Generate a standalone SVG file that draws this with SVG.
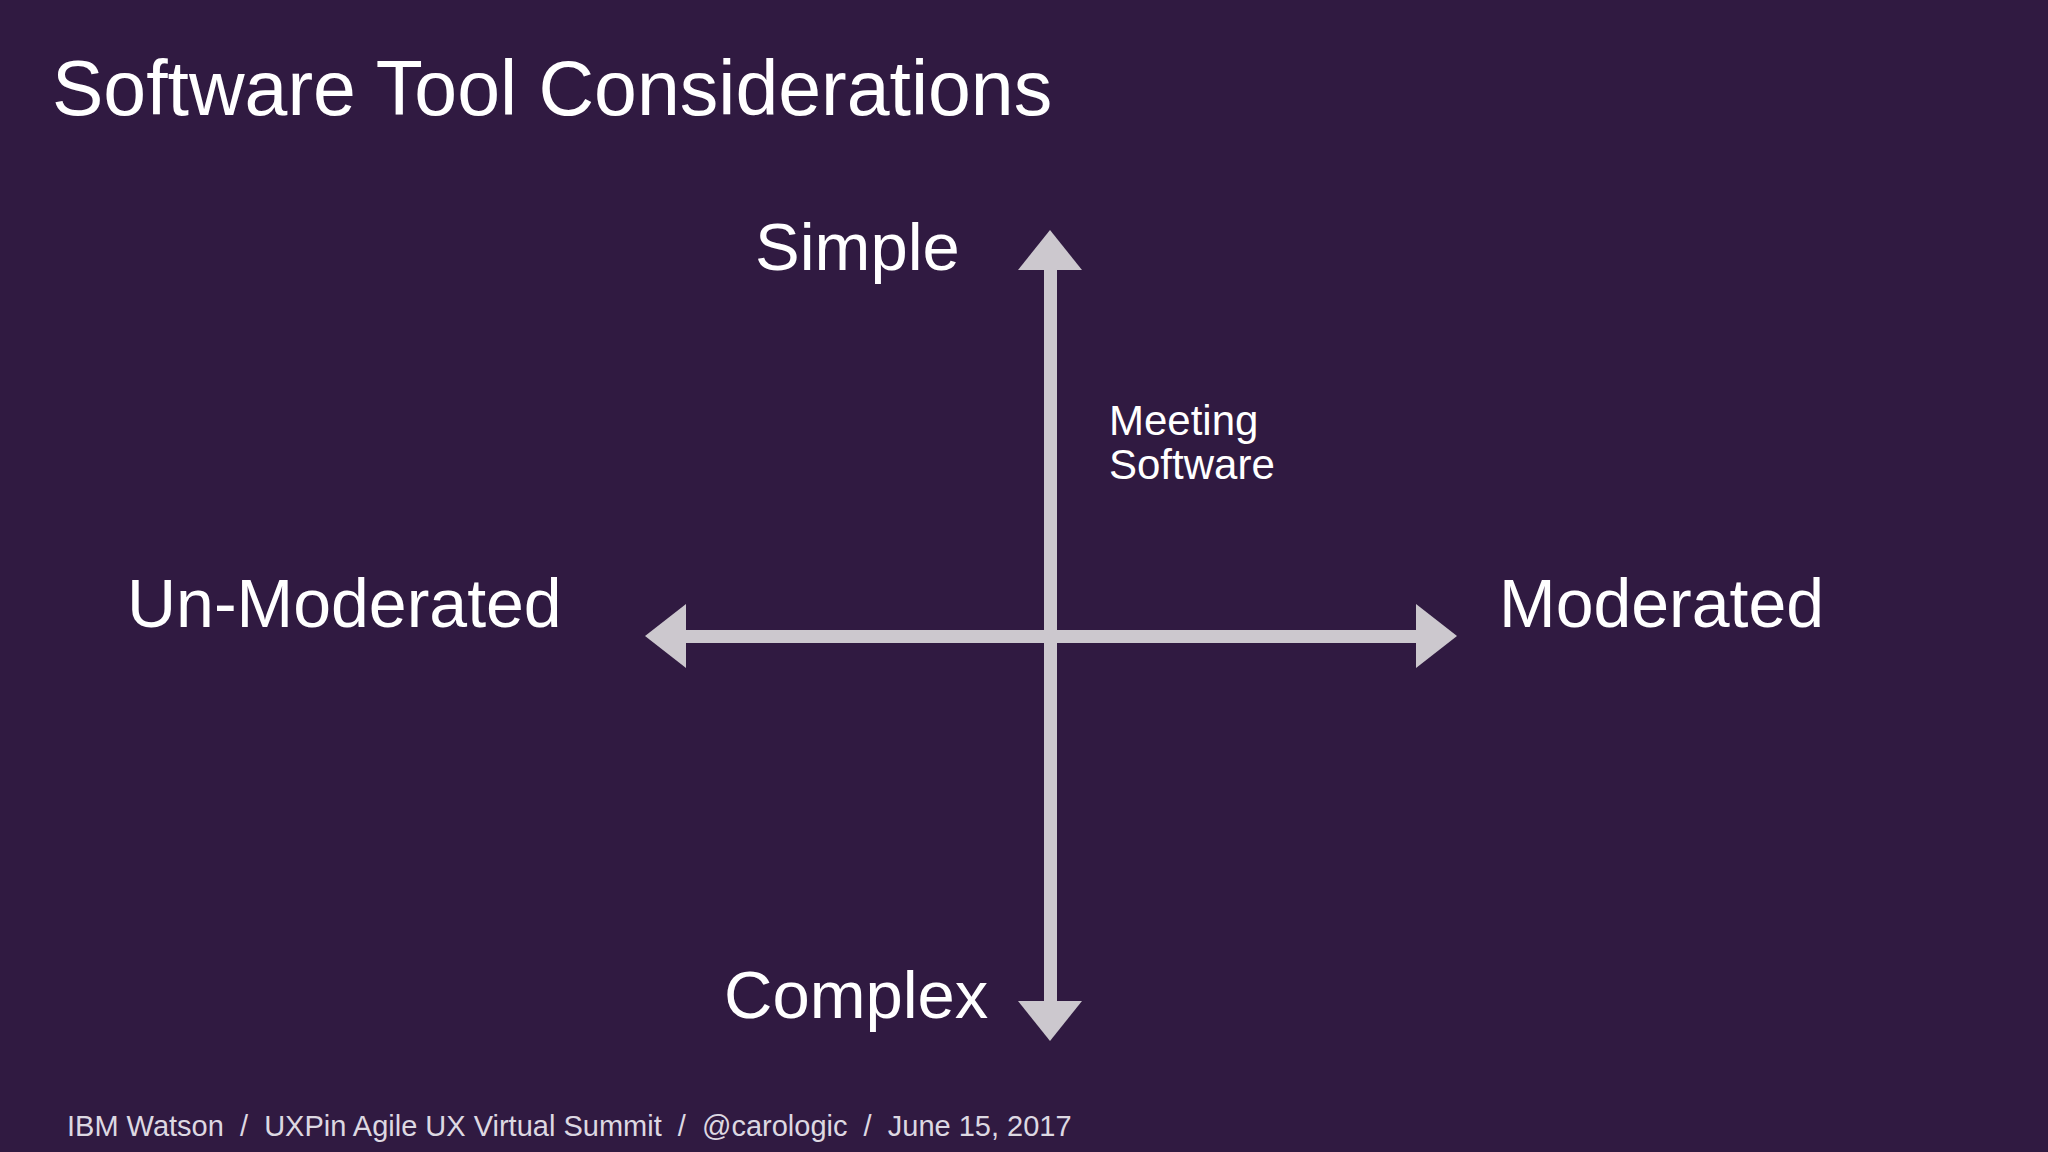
<svg xmlns="http://www.w3.org/2000/svg" width="2048" height="1152" viewBox="0 0 2048 1152">
<style>
text{font-family:"Liberation Sans",Arial,sans-serif;fill:#ffffff}
.ax{fill:#ccc8ce}
</style>
<rect width="2048" height="1152" fill="#301a41"/>
<text x="52" y="115" font-size="77">Software Tool Considerations</text>
<g id="connectors">
<rect class="ax" x="1044" y="265" width="13" height="740"/>
<polygon class="ax" points="1050,230 1082,270 1018,270"/>
<polygon class="ax" points="1050,1041 1082,1001 1018,1001"/>
<rect class="ax" x="680" y="630" width="740" height="13"/>
<polygon class="ax" points="645,636 686,604 686,668"/>
<polygon class="ax" points="1457,636 1416,604 1416,668"/>
</g>
<g id="simple"><text x="755" y="270" font-size="67">Simple</text></g>
<g id="complex"><text x="724" y="1018" font-size="67">Complex</text></g>
<g id="unmoderated"><text x="127" y="627" font-size="68">Un-Moderated</text></g>
<g id="moderated"><text x="1499" y="627" font-size="68">Moderated</text></g>
<g id="meeting"><text x="1109" y="435" font-size="42">Meeting</text><text x="1109" y="479" font-size="42">Software</text></g>
<text x="67" y="1136" font-size="29" xml:space="preserve" style="fill:#ddd8e2;white-space:pre">IBM Watson  /  UXPin Agile UX Virtual Summit  /  @carologic  /  June 15, 2017</text>
</svg>
